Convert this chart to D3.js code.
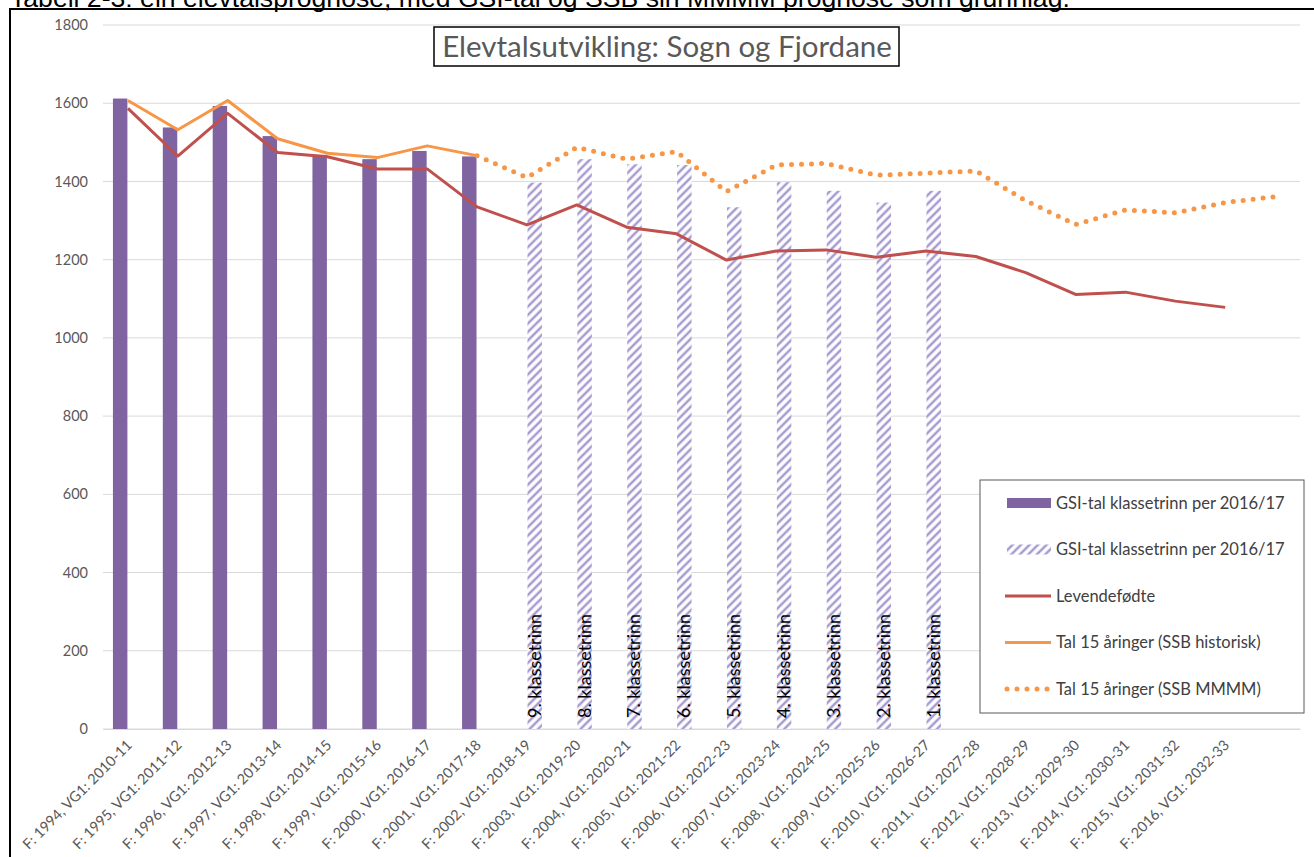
<!DOCTYPE html>
<html>
<head>
<meta charset="utf-8">
<script src="https://cdn.jsdelivr.net/npm/d3@7"></script>
<style>
body{margin:0;background:#fff;}
svg{display:block;}
</style>
</head>
<body>
<script>
// categories (last slot has no label, only the SSB MMMM line reaches it)
const categories = ["F: 1994, VG1: 2010-11","F: 1995, VG1: 2011-12","F: 1996, VG1: 2012-13","F: 1997, VG1: 2013-14",
  "F: 1998, VG1: 2014-15","F: 1999, VG1: 2015-16","F: 2000, VG1: 2016-17","F: 2001, VG1: 2017-18",
  "F: 2002, VG1: 2018-19","F: 2003, VG1: 2019-20","F: 2004, VG1: 2020-21","F: 2005, VG1: 2021-22",
  "F: 2006, VG1: 2022-23","F: 2007, VG1: 2023-24","F: 2008, VG1: 2024-25","F: 2009, VG1: 2025-26",
  "F: 2010, VG1: 2026-27","F: 2011, VG1: 2027-28","F: 2012, VG1: 2028-29","F: 2013, VG1: 2029-30",
  "F: 2014, VG1: 2030-31","F: 2015, VG1: 2031-32","F: 2016, VG1: 2032-33",""];

const gsiSolid = [1612,1538,1593,1516,1468,1457,1478,1464];
const gsiHatched = [null,null,null,null,null,null,null,null,1397,1457,1444,1442,1334,1398,1376,1346,1376];
const klasseLabels = ["9. klassetrinn","8. klassetrinn","7. klassetrinn","6. klassetrinn","5. klassetrinn",
  "4. klassetrinn","3. klassetrinn","2. klassetrinn","1. klassetrinn"];
const levendefodte = [1587,1465,1574,1474,1463,1432,1432,1335,1289,1340,1283,1266,1199,1222,1225,1206,1222,1208,1167,1111,1117,1094,1078];
const ssbHistorisk = [1607,1532,1607,1509,1472,1461,1491,1466];
const ssbMMMM = [null,null,null,null,null,null,null,1466,1410,1487,1457,1476,1374,1442,1446,1416,1421,1427,1351,1290,1327,1320,1346,1361];
const yTicks = [0,200,400,600,800,1000,1200,1400,1600,1800];

const W = 1314, H = 857;
const plotLeft = 103, plotRight = 1300, plotTop = 25, plotBottom = 729;

const svg = d3.select("body").append("svg")
  .attr("width", W).attr("height", H);

const defs = svg.append("defs");
const pat = defs.append("pattern")
  .attr("id","hatch")
  .attr("patternUnits","userSpaceOnUse")
  .attr("width",6).attr("height",6)
  .attr("patternTransform","rotate(45)");
pat.append("rect").attr("width",6).attr("height",6).attr("fill","#fff");
pat.append("line").attr("x1",2).attr("y1",0).attr("x2",2).attr("y2",6)
  .attr("stroke","#a69bd0").attr("stroke-width",2.5);

// caption above the chart (cut off at the top, as in the source)
svg.append("text")
  .attr("x",10).attr("y",7)
  .attr("font-family","Liberation Sans, Arial, sans-serif")
  .attr("font-size",26.6)
  .attr("fill","#000")
  .text("Tabell 2-3: ein elevtalsprognose, med GSI-tal og SSB sin MMMM prognose som grunnlag.");

// outer frame
svg.append("rect")
  .attr("x",10).attr("y",9).attr("width",1330).attr("height",900)
  .attr("fill","none").attr("stroke","#000").attr("stroke-width",2);

const x = d3.scaleBand().domain(d3.range(categories.length)).range([plotLeft,plotRight]);
const xc = i => x(i) + x.bandwidth()/2;
const xSub = d3.scaleBand().domain(["solid","hatched"]).range([-15,15]).paddingInner(0.07);
const y = d3.scaleLinear().domain([0,1800]).range([plotBottom,plotTop]);

// gridlines
svg.append("g").selectAll("line")
  .data(yTicks).enter().append("line")
  .attr("x1",plotLeft).attr("x2",plotRight)
  .attr("y1",d=>y(d)).attr("y2",d=>y(d))
  .attr("stroke","#d9d9d9").attr("stroke-width",1);

// y axis labels
const yAxis = svg.append("g")
  .attr("transform",`translate(${plotLeft},0)`)
  .call(d3.axisLeft(y).tickValues(yTicks).tickFormat(d3.format("d")).tickSize(0).tickPadding(15));
yAxis.select(".domain").remove();
yAxis.selectAll("text")
  .attr("font-family","Lato, sans-serif").attr("font-size",14.5).attr("fill","#595959");

// x axis labels
const xAxis = svg.append("g")
  .attr("transform",`translate(0,${plotBottom})`)
  .call(d3.axisBottom(x).tickFormat(i=>categories[i]).tickSize(0).tickPadding(0));
xAxis.select(".domain").attr("stroke","#d9d9d9");
xAxis.selectAll("text")
  .attr("font-family","Lato, sans-serif").attr("font-size",14.5).attr("fill","#595959")
  .attr("text-anchor","end")
  .attr("dy",0)
  .attr("transform","translate(5,17) rotate(-45)");

// solid bars
svg.append("g").selectAll("rect")
  .data(gsiSolid).enter().append("rect")
  .attr("x",(d,i)=>xc(i)+xSub("solid"))
  .attr("width",xSub.bandwidth())
  .attr("y",d=>y(d))
  .attr("height",d=>y(0)-y(d))
  .attr("fill","#8064a2");

// hatched bars
const hatched = gsiHatched.map((v,i)=>({v,i})).filter(d=>d.v!=null);
svg.append("g").selectAll("rect")
  .data(hatched).enter().append("rect")
  .attr("x",d=>xc(d.i)+xSub("hatched"))
  .attr("width",xSub.bandwidth())
  .attr("y",d=>y(d.v))
  .attr("height",d=>y(0)-y(d.v))
  .attr("fill","url(#hatch)");

svg.append("g").selectAll("text")
  .data(hatched).enter().append("text")
  .attr("transform",d=>`translate(${xc(d.i)+xSub("hatched")+xSub.bandwidth()/2+6},${plotBottom-11}) rotate(-90)`)
  .attr("font-family","Lato, sans-serif").attr("font-size",18).attr("fill","#000")
  .text((d,k)=>klasseLabels[k]);

// lines
const line = d3.line()
  .defined(d=>d!=null)
  .x((d,i)=>xc(i))
  .y(d=>y(d));

svg.append("path").datum(levendefodte)
  .attr("d",line).attr("fill","none")
  .attr("stroke","#c0504d").attr("stroke-width",3).attr("stroke-linejoin","round");

svg.append("path").datum(ssbHistorisk)
  .attr("d",line).attr("fill","none")
  .attr("stroke","#f79646").attr("stroke-width",3).attr("stroke-linejoin","round");

svg.append("path").datum(ssbMMMM)
  .attr("d",line).attr("fill","none")
  .attr("stroke","#f79646").attr("stroke-width",5)
  .attr("stroke-linecap","round").attr("stroke-dasharray","0 10");

// title box
const tg = svg.append("g");
tg.append("rect")
  .attr("x",434).attr("y",27).attr("width",465).attr("height",39)
  .attr("fill","#fff").attr("stroke","#000").attr("stroke-width",1.5);
tg.append("text")
  .attr("x",667).attr("y",57)
  .attr("text-anchor","middle")
  .attr("font-family","Lato, sans-serif").attr("font-size",29.5).attr("fill","#595959")
  .text("Elevtalsutvikling: Sogn og Fjordane");

// legend
const legendItems = [
  {label:"GSI-tal klassetrinn per 2016/17", type:"solid"},
  {label:"GSI-tal klassetrinn per 2016/17", type:"hatch"},
  {label:"Levendefødte", type:"red"},
  {label:"Tal 15 åringer (SSB historisk)", type:"orange"},
  {label:"Tal 15 åringer (SSB MMMM)", type:"dots"}
];
const lg = svg.append("g");
lg.append("rect")
  .attr("x",980).attr("y",480).attr("width",324).attr("height",233)
  .attr("fill","#fff").attr("stroke","#595959").attr("stroke-width",1);
const rows = lg.selectAll("g").data(legendItems).enter().append("g")
  .attr("transform",(d,i)=>`translate(1005,${503+i*46.5})`);
rows.each(function(d){
  const g = d3.select(this);
  if(d.type==="solid"){
    g.append("rect").attr("x",2).attr("y",-5).attr("width",44).attr("height",10).attr("fill","#8064a2");
  } else if(d.type==="hatch"){
    g.append("rect").attr("x",2).attr("y",-5).attr("width",44).attr("height",10).attr("fill","url(#hatch)");
  } else if(d.type==="red"){
    g.append("line").attr("x1",0).attr("x2",46).attr("stroke","#c0504d").attr("stroke-width",3);
  } else if(d.type==="orange"){
    g.append("line").attr("x1",0).attr("x2",46).attr("stroke","#f79646").attr("stroke-width",3);
  } else {
    g.append("line").attr("x1",2).attr("x2",46).attr("stroke","#f79646").attr("stroke-width",5)
      .attr("stroke-linecap","round").attr("stroke-dasharray","0 10");
  }
  g.append("text").attr("x",51).attr("y",5.5)
    .attr("font-family","Lato, sans-serif").attr("font-size",16.5).attr("fill","#404040")
    .text(d.label);
});
</script>
</body>
</html>
